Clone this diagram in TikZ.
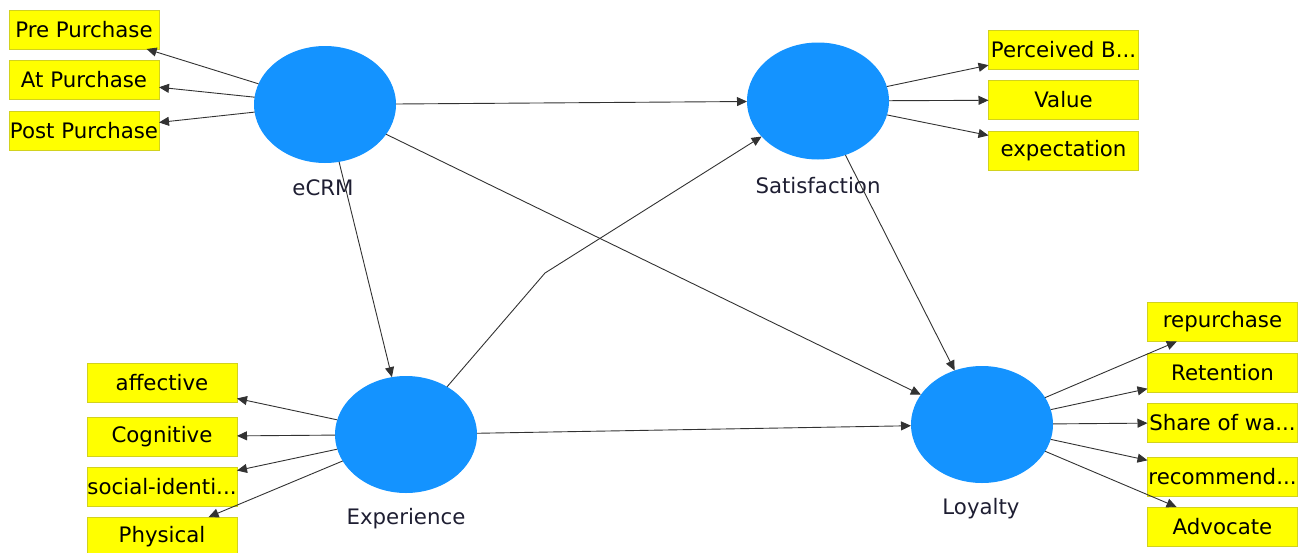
\documentclass[tikz,border=0pt]{standalone}
\usepackage{fontspec}
\setmainfont{DejaVu Sans}
\usetikzlibrary{shapes.geometric,arrows.meta}
\definecolor{lvblue}{RGB}{20,147,255}
\definecolor{mvyellow}{RGB}{255,255,0}
\definecolor{mvedge}{RGB}{210,210,30}
\definecolor{linkgray}{RGB}{50,50,50}
\definecolor{lbltext}{RGB}{30,30,50}
\begin{document}
\begin{tikzpicture}[x=1pt,y=-1pt,
  lv/.style={ellipse,fill=lvblue,minimum width=142pt,minimum height=117pt,inner sep=0pt,outer sep=0pt},
  mv/.style={rectangle,fill=mvyellow,draw=mvedge,line width=1pt,minimum width=150pt,minimum height=39pt,
             inner sep=0pt,outer sep=0pt,font=\fontsize{21.3}{25}\selectfont,text=black},
  lvlabel/.style={font=\fontsize{21.3}{25}\selectfont,text=lbltext,inner sep=0pt},
  link/.style={draw=linkgray,line width=0.9pt,-{Triangle[length=10pt,width=9pt]}}]
\useasboundingbox (0,0) rectangle (1299,552);

% latent variables
\node[lv] (ecrm) at (325,104.5) {};
\node[lv] (sat)  at (818,101) {};
\node[lv] (exp)  at (406,434.5) {};
\node[lv] (loy)  at (982,424.5) {};
\node[lvlabel] (ecrmL) at (323,188) {eCRM};
\node[lvlabel] (satL)  at (818,186) {Satisfaction};
\node[lvlabel] (expL)  at (406,519) {Experience};
\node[lvlabel] (loyL)  at (981,509) {Loyalty};

% indicators of eCRM
\node[mv] (pre)  at (84,29.5)  {Pre Purchase};
\node[mv] (at)   at (84,79.5)  {At Purchase};
\node[mv] (post) at (84,130.5) {Post Purchase};

% indicators of Satisfaction
\node[mv] (pb)   at (1063.5,49.5)  {Perceived B...};
\node[mv] (val)  at (1063.5,100)   {Value};
\node[mv] (expc) at (1063.5,150.5) {expectation};

% indicators of Experience
\node[mv] (aff)  at (162,382.5) {affective};
\node[mv] (cog)  at (162,436.5) {Cognitive};
\node[mv] (soc)  at (162,486.5) {social-identi...};
\node[mv] (phy)  at (162,536.5) {Physical};

% indicators of Loyalty
\node[mv] (rep)  at (1222.5,322)   {repurchase};
\node[mv] (ret)  at (1222.5,372.5) {Retention};
\node[mv] (sow)  at (1222.5,422.5) {Share of wa...};
\node[mv] (rec)  at (1222.5,476.5) {recommend...};
\node[mv] (adv)  at (1222.5,526.5) {Advocate};

% structural paths
\coordinate (bend) at (545,273);
\draw[link] (ecrm) -- (sat);
\draw[link] (ecrm) -- (exp);
\draw[link] (ecrm) -- (loy);
\draw[link] (exp) -- (bend) -- (sat);
\draw[link] (exp) -- (loy);
\draw[link] (sat) -- (loy);

% measurement paths
\foreach \m in {pre,at,post} \draw[link] (ecrm) -- (\m);
\foreach \m in {pb,val,expc} \draw[link] (sat) -- (\m);
\foreach \m in {aff,cog,soc,phy} \draw[link] (exp) -- (\m);
\foreach \m in {rep,ret,sow,rec,adv} \draw[link] (loy) -- (\m);
\end{tikzpicture}
\end{document}
